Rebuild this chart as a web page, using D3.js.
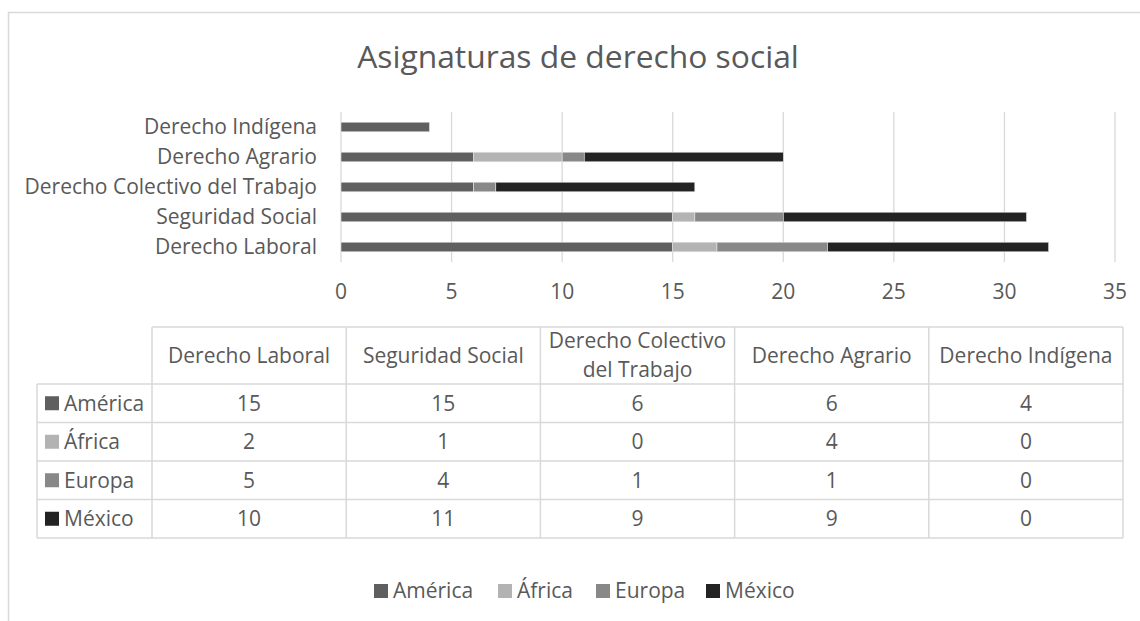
<!DOCTYPE html>
<html>
<head>
<meta charset="utf-8">
<script src="https://cdn.jsdelivr.net/npm/d3@7"></script>
<style>
  body { margin: 0; background: #fff; }
  svg { display: block; font-family: 'Open Sans', 'Noto Sans', sans-serif; }
</style>
</head>
<body>
<div id="chart"></div>
<script>
// data
const categories = ['Derecho Laboral', 'Seguridad Social', 'Derecho Colectivo del Trabajo', 'Derecho Agrario', 'Derecho Indígena'];
const seriesNames = ['América', 'África', 'Europa', 'México'];
const america = [15, 15, 6, 6, 4];
const africa = [2, 1, 0, 4, 0];
const europa = [5, 4, 1, 1, 0];
const mexico = [10, 11, 9, 9, 0];
const xTicks = [0, 5, 10, 15, 20, 25, 30, 35];
const colors = ['#5f5f5f', '#b3b3b3', '#888888', '#232323'];

const width = 1140;
const height = 621;
const textColor = '#595959';
const gridColor = '#d9d9d9';
const fs = 21;

const svg = d3.select('#chart')
  .append('svg')
  .attr('width', width)
  .attr('height', height);

// chart frame (runs past the picture on the right and bottom)
svg.append('rect')
  .attr('x', 8.5)
  .attr('y', 12.5)
  .attr('width', 1200)
  .attr('height', 700)
  .attr('fill', 'none')
  .attr('stroke', gridColor)
  .attr('stroke-width', 1.5);

svg.append('text')
  .attr('x', 578)
  .attr('y', 68)
  .attr('text-anchor', 'middle')
  .attr('font-size', 31.8)
  .attr('fill', textColor)
  .text('Asignaturas de derecho social');

const seriesData = [america, africa, europa, mexico];
const rows = categories.map((c, i) => {
  const row = { cat: c };
  seriesNames.forEach((s, j) => { row[s] = seriesData[j][i]; });
  return row;
});

const x = d3.scaleLinear().domain([0, 35]).range([341, 1115]);
const y = d3.scaleBand()
  .domain(categories.slice().reverse())
  .range([112, 262])
  .paddingInner(0.68)
  .paddingOuter(0.34);

// gridlines
svg.append('g')
  .selectAll('line')
  .data(xTicks)
  .join('line')
  .attr('x1', (d) => x(d))
  .attr('x2', (d) => x(d))
  .attr('y1', 112)
  .attr('y2', 262)
  .attr('stroke', gridColor)
  .attr('stroke-width', 1.3);

// x tick labels
svg.append('g')
  .selectAll('text')
  .data(xTicks)
  .join('text')
  .attr('x', (d) => x(d))
  .attr('y', 292)
  .attr('dy', '0.35em')
  .attr('text-anchor', 'middle')
  .attr('font-size', fs)
  .attr('fill', textColor)
  .text((d) => d);

// category labels
svg.append('g')
  .selectAll('text')
  .data(categories)
  .join('text')
  .attr('x', 317)
  .attr('y', (d) => y(d) + y.bandwidth() / 2)
  .attr('dy', '0.35em')
  .attr('text-anchor', 'end')
  .attr('font-size', fs)
  .attr('fill', textColor)
  .text((d) => d);

// stacked bars
const stack = d3.stack().keys(seriesNames)(rows);
svg.append('g')
  .selectAll('g')
  .data(stack)
  .join('g')
  .attr('fill', (d, i) => colors[i])
  .selectAll('rect')
  .data((d) => d.filter((p) => p[1] > p[0]))
  .join('rect')
  .attr('x', (d) => x(d[0]))
  .attr('y', (d) => y(d.data.cat))
  .attr('width', (d) => x(d[1]) - x(d[0]))
  .attr('height', y.bandwidth())
  .attr('stroke', '#e6e6e6')
  .attr('stroke-width', 0.6);

// data table
const tLeft = 37;
const tFirst = 152;
const colW = (1123 - tFirst) / categories.length;
const headTop = 327;
const headBot = 384;
const rowH = (538 - headBot) / seriesNames.length;
const table = svg.append('g')
  .attr('stroke', gridColor)
  .attr('stroke-width', 1.5);

// horizontal lines
table.append('line')
  .attr('x1', tFirst).attr('x2', 1123)
  .attr('y1', headTop).attr('y2', headTop);
d3.range(seriesNames.length + 1).forEach((r) => {
  table.append('line')
    .attr('x1', tLeft).attr('x2', 1123)
    .attr('y1', headBot + r * rowH).attr('y2', headBot + r * rowH);
});
// vertical lines
table.append('line')
  .attr('x1', tLeft).attr('x2', tLeft)
  .attr('y1', headBot).attr('y2', 538);
d3.range(categories.length + 1).forEach((c) => {
  table.append('line')
    .attr('x1', tFirst + c * colW).attr('x2', tFirst + c * colW)
    .attr('y1', headTop).attr('y2', 538);
});

// header text
const headerLines = [['Derecho Laboral'], ['Seguridad Social'], ['Derecho Colectivo', 'del Trabajo'], ['Derecho Agrario'], ['Derecho Indígena']];
headerLines.forEach((lines, i) => {
  const cx = tFirst + (i + 0.5) * colW;
  const cy = (headTop + headBot) / 2;
  lines.forEach((ln, k) => {
    svg.append('text')
      .attr('x', cx)
      .attr('y', cy + (k - (lines.length - 1) / 2) * 29)
      .attr('dy', '0.35em')
      .attr('text-anchor', 'middle')
      .attr('font-size', fs)
      .attr('fill', textColor)
      .text(ln);
  });
});

// row labels and values
seriesNames.forEach((s, r) => {
  const cy = headBot + (r + 0.5) * rowH;
  svg.append('rect')
    .attr('x', 45)
    .attr('y', cy - 7)
    .attr('width', 14)
    .attr('height', 14)
    .attr('fill', colors[r]);
  svg.append('text')
    .attr('x', 64)
    .attr('y', cy)
    .attr('dy', '0.35em')
    .attr('font-size', fs)
    .attr('fill', textColor)
    .text(s);
  seriesData[r].forEach((v, c) => {
    svg.append('text')
      .attr('x', tFirst + (c + 0.5) * colW)
      .attr('y', cy)
      .attr('dy', '0.35em')
      .attr('text-anchor', 'middle')
      .attr('font-size', fs)
      .attr('fill', textColor)
      .text(v);
  });
});

// legend
const legendX = [374, 498, 596, 706];
const legend = svg.append('g')
  .selectAll('g')
  .data(seriesNames)
  .join('g')
  .attr('transform', (d, i) => `translate(${legendX[i]},591)`);
legend.append('rect')
  .attr('x', 0)
  .attr('y', -7)
  .attr('width', 14)
  .attr('height', 14)
  .attr('fill', (d, i) => colors[i]);
legend.append('text')
  .attr('x', 19)
  .attr('dy', '0.35em')
  .attr('font-size', fs)
  .attr('fill', textColor)
  .text((d) => d);
</script>
</body>
</html>
